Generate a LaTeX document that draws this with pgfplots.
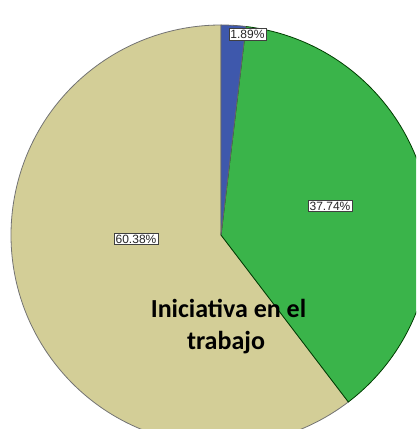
\documentclass[border=0pt]{standalone}
\usepackage{pgfplots}
\pgfplotsset{compat=1.18}
\usepackage{pgfplotstable}
\usepackage{fontspec}
\setmainfont{Liberation Sans}
\newfontfamily\calibri{Carlito}
\definecolor{spssblue}{RGB}{62,88,172}
\definecolor{spssgreen}{RGB}{58,180,74}
\definecolor{spssbeige}{RGB}{211,206,151}
\pgfplotstableread{
label pct
a 1.89
b 37.74
c 60.38
}\piedata
\begin{document}
\begin{tikzpicture}
\begin{axis}[
  scale only axis, width=416pt, height=429pt,
  xmin=0, xmax=416, ymin=0, ymax=429,
  hide axis, clip=true,
]
\addplot[draw=none] coordinates {(0,0) (416,429)};
\pgfplotstablegetelem{0}{pct}\of\piedata \let\pa\pgfplotsretval
\pgfplotstablegetelem{1}{pct}\of\piedata \let\pb\pgfplotsretval
\pgfplotstablegetelem{2}{pct}\of\piedata \let\pc\pgfplotsretval
\pgfmathsetmacro\aA{90}
\pgfmathsetmacro\aB{90-3.6*\pa}
\pgfmathsetmacro\aC{\aB-3.6*\pb}
\pgfmathsetmacro\aD{\aC-3.6*\pc}
\fill[spssbeige, draw=black!55, line width=0.8pt] (axis cs:221,194) -- ++(\aC:210pt) arc[start angle=\aC, end angle=\aD, radius=210pt] -- cycle;
\fill[spssgreen, draw=black!60!green!60!black, line width=0.8pt] (axis cs:221,194) -- ++(\aB:210pt) arc[start angle=\aB, end angle=\aC, radius=210pt] -- cycle;
\fill[spssblue, draw=black!60, line width=0.8pt] (axis cs:221,194) -- ++(\aA:210pt) arc[start angle=\aA, end angle=\aB, radius=210pt] -- cycle;
\tikzset{pl/.style={fill=white, draw=black!75, line width=0.6pt, inner xsep=1.5pt, inner ysep=1.5pt, font=\fontsize{12}{13}\selectfont, text=black!85}}
\node[pl] at (axis cs:247.5,394.7) {1.89\%};
\node[pl] at (axis cs:330,223) {37.74\%};
\node[pl] at (axis cs:136,190) {60.38\%};
\node[anchor=base, font=\calibri\bfseries\fontsize{26}{30}\selectfont] at (axis cs:228.5,111) {Iniciativa en el};
\node[anchor=base, font=\calibri\bfseries\fontsize{26}{30}\selectfont] at (axis cs:226,79) {trabajo};
\end{axis}
\end{tikzpicture}
\end{document}
